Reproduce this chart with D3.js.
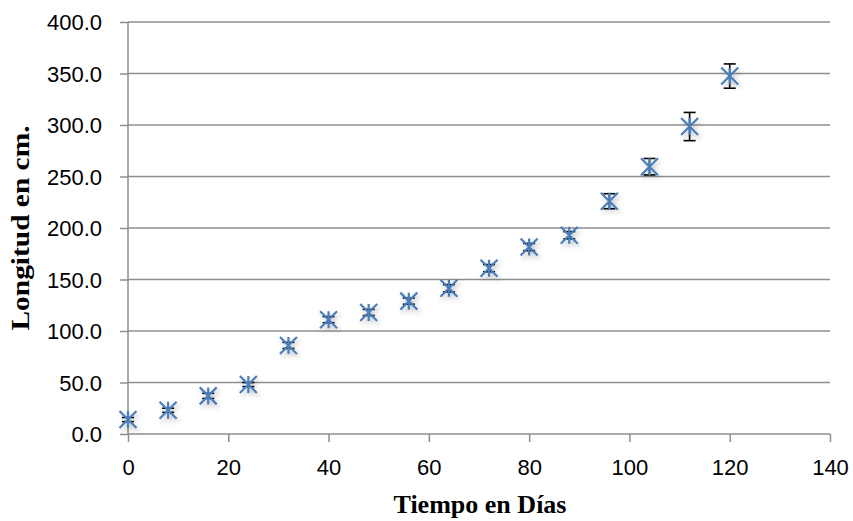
<!DOCTYPE html>
<html>
<head>
<meta charset="utf-8">
<script src="https://cdn.jsdelivr.net/npm/d3@7"></script>
<style>
  body { margin: 0; background: #fff; }
  svg { display: block; }
</style>
</head>
<body>
<svg class="scatter-chart"></svg>
<script>
// days and measured length (cm) with error bar half-widths
var dias = [0, 8, 16, 24, 32, 40, 48, 56, 64, 72, 80, 88, 96, 104, 112, 120];
var longitud = [14, 23, 37, 48, 86, 111, 118, 129, 141.5, 161, 181.5, 193, 226, 259.5, 298.5, 347.5];
var error = [2, 2, 2.5, 2, 3, 3, 3, 3, 3.5, 3.5, 3.5, 3.5, 7.3, 8, 13.7, 11.8];
var xTicks = [0, 20, 40, 60, 80, 100, 120, 140];
var yTicks = [0, 50, 100, 150, 200, 250, 300, 350, 400];

var svgWidth = 853, svgHeight = 521;
var margin = { top: 22, right: 23, bottom: 87, left: 128 };
var width = svgWidth - margin.left - margin.right;
var height = svgHeight - margin.top - margin.bottom;

var svg = d3.select('.scatter-chart')
    .attr("width", svgWidth)
    .attr("height", svgHeight);

var defs = svg.append("defs");
var shadow = defs.append("filter")
    .attr("id", "shadow")
    .attr("x", "-50%").attr("y", "-50%")
    .attr("width", "200%").attr("height", "200%");
shadow.append("feDropShadow")
    .attr("dx", 2).attr("dy", 3)
    .attr("stdDeviation", 2.5)
    .attr("flood-color", "#000")
    .attr("flood-opacity", 0.25);

var g = svg.append("g")
    .attr("transform", "translate(" + margin.left + "," + margin.top + ")");

var x = d3.scaleLinear().domain([0, 140]).range([0, width]);
var y = d3.scaleLinear().domain([0, 400]).range([height, 0]);

var gridColor = "#8e8e8e";

// horizontal gridlines
g.selectAll(".grid")
    .data(yTicks.slice(1))
    .enter()
    .append("line")
    .attr("class", "grid")
    .attr("x1", 0)
    .attr("x2", width)
    .attr("y1", function(d) { return y(d); })
    .attr("y2", function(d) { return y(d); })
    .attr("stroke", gridColor)
    .attr("stroke-width", 1.5);

var xAxis = g.append("g")
    .attr("transform", "translate(0," + height + ")")
    .call(d3.axisBottom(x).tickValues(xTicks).tickSize(8).tickPadding(17)
        .tickFormat(d3.format("d")));

var yAxis = g.append("g")
    .call(d3.axisLeft(y).tickValues(yTicks).tickSize(8).tickPadding(18)
        .tickFormat(d3.format(".1f")));

[xAxis, yAxis].forEach(function(a) {
    a.select(".domain").attr("stroke", gridColor).attr("stroke-width", 1.5)
        .attr("d", a === xAxis ? "M0,0H" + width : "M0,0V" + height);
    a.selectAll(".tick line").attr("stroke", gridColor).attr("stroke-width", 1.5);
    a.selectAll(".tick text")
        .attr("fill", "#000")
        .style("font-family", "'Liberation Sans', Arial, sans-serif")
        .style("font-size", "22px");
});
xAxis.selectAll(".tick text").attr("dy", "0.72em");
yAxis.selectAll(".tick text").attr("dy", "0.35em");

// error bars
var eb = g.selectAll(".err")
    .data(dias)
    .enter()
    .append("g")
    .attr("class", "err")
    .attr("stroke", "#000")
    .attr("stroke-width", 1.6);

eb.append("line")
    .attr("x1", function(d) { return x(d); })
    .attr("x2", function(d) { return x(d); })
    .attr("y1", function(d, i) { return y(longitud[i] + error[i]); })
    .attr("y2", function(d, i) { return y(longitud[i] - error[i]); });

[1, -1].forEach(function(s) {
    eb.append("line")
        .attr("x1", function(d) { return x(d) - 6; })
        .attr("x2", function(d) { return x(d) + 6; })
        .attr("y1", function(d, i) { return y(longitud[i] + s * error[i]); })
        .attr("y2", function(d, i) { return y(longitud[i] + s * error[i]); });
});

// star markers
var r = 8.5;
g.selectAll(".marker")
    .data(dias)
    .enter()
    .append("path")
    .attr("class", "marker")
    .attr("d", function(d, i) {
        var cx = x(d), cy = y(longitud[i]);
        return "M" + (cx - r) + "," + (cy - r) + "L" + (cx + r) + "," + (cy + r) +
               "M" + (cx - r) + "," + (cy + r) + "L" + (cx + r) + "," + (cy - r) +
               "M" + cx + "," + (cy - r) + "L" + cx + "," + (cy + r);
    })
    .attr("fill", "none")
    .attr("stroke", "#4a7ebb")
    .attr("stroke-width", 2.2)
    .attr("filter", "url(#shadow)");

// axis titles
svg.append("text")
    .attr("x", margin.left + width / 2 + 1)
    .attr("y", 513)
    .attr("text-anchor", "middle")
    .attr("textLength", 173)
    .attr("lengthAdjust", "spacingAndGlyphs")
    .style("font-family", "'Liberation Serif', 'Times New Roman', serif")
    .style("font-weight", "bold")
    .style("font-size", "26px")
    .text("Tiempo en Días");

svg.append("text")
    .attr("transform", "translate(29," + 228 + ") rotate(-90)")
    .attr("text-anchor", "middle")
    .attr("textLength", 205)
    .attr("lengthAdjust", "spacingAndGlyphs")
    .style("font-family", "'Liberation Serif', 'Times New Roman', serif")
    .style("font-weight", "bold")
    .style("font-size", "25px")
    .text("Longitud en cm.");
</script>
</body>
</html>
